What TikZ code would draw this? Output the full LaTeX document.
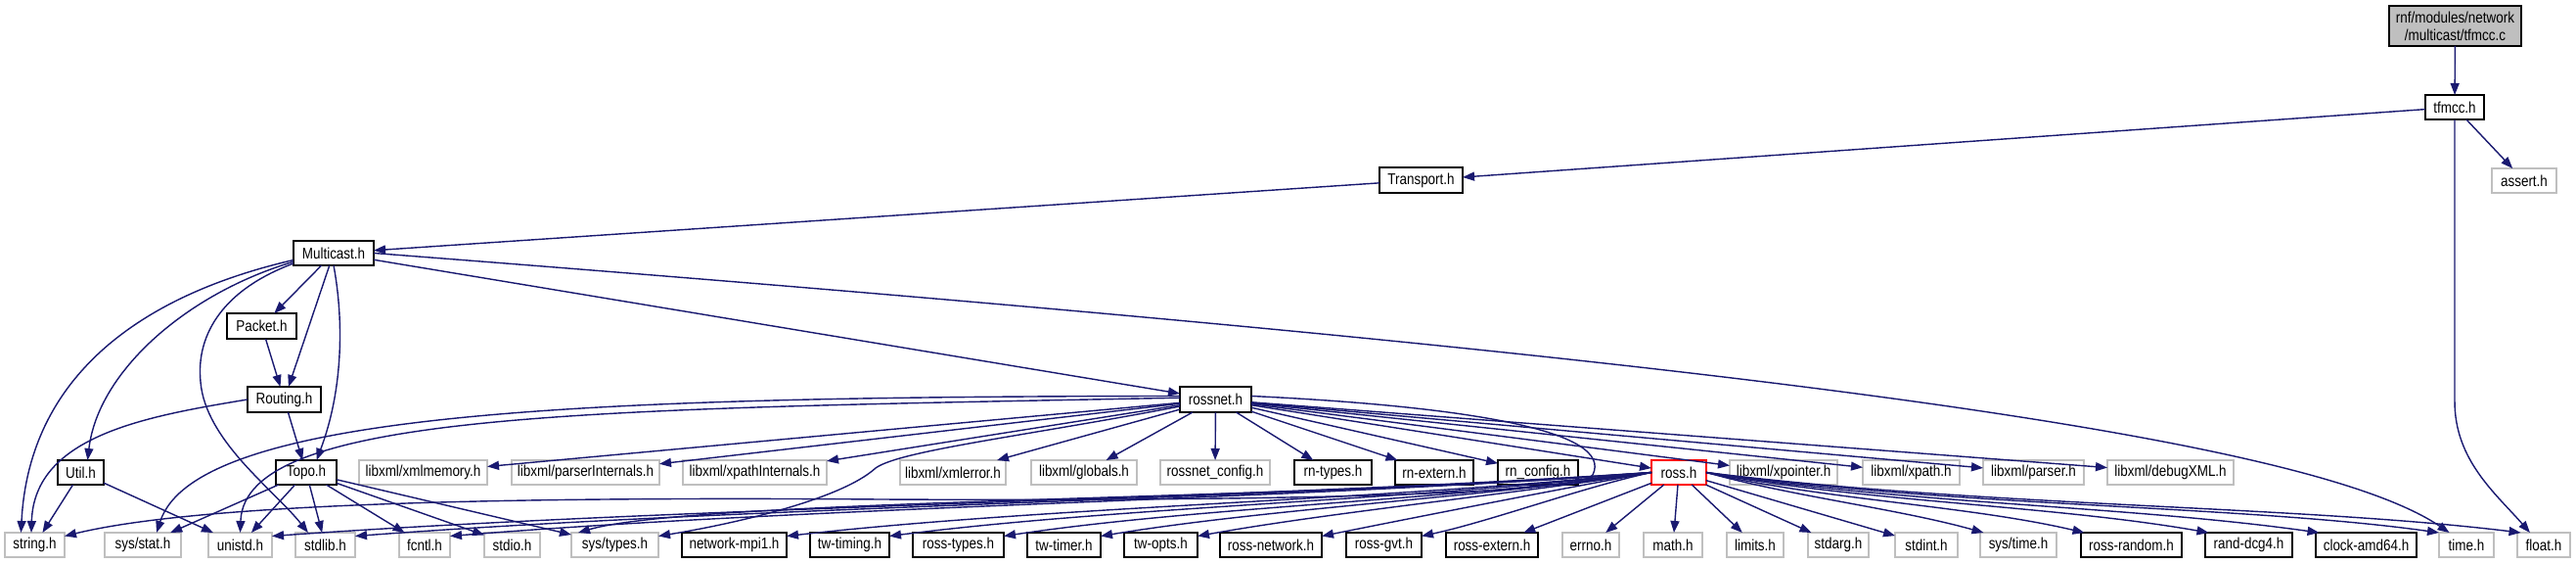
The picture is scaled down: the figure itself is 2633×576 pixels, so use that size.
\documentclass[tikz,border=0pt]{standalone}
\usepackage{fontspec}
\setmainfont{Liberation Sans}[FakeStretch=0.85]
\usetikzlibrary{arrows.meta,calc}
\definecolor{edgec}{HTML}{191970}
\definecolor{sysgray}{HTML}{BFBFBF}
\newcommand\mkbox[7]{\node[#1, minimum width={(#5-#4)*0.01cm}, minimum height={(#7-#6)*0.01cm}] (#2) at ({(#4+#5)/2},{(#6+#7)/2}) {#3};}
\begin{document}
\begin{tikzpicture}[x=0.01cm,y=-0.01cm,
  basebox/.style={rectangle, inner sep=0pt, outer sep=0pt, line width=0.45pt, fill=white, font=\fontsize{4.5pt}{5.2pt}\selectfont},
  docbox/.style={basebox, draw=black},
  sysbox/.style={basebox, draw=sysgray},
  rootbox/.style={basebox, draw=black, fill=sysgray, align=center},
  rossbox/.style={basebox, draw=red},
  dep/.style={draw=edgec, line width=0.4pt, -{Triangle[length=0.12cm, width=0.09cm]}}
]
\useasboundingbox (0,0) rectangle (2633,576);
% nodes
\mkbox{rootbox}{tfmccc}{rnf/modules/network\\/multicast/tfmcc.c}{2442}{2577}{6}{47}
\mkbox{docbox}{tfmcch}{tfmcc.h}{2479}{2539}{97}{122}
\mkbox{docbox}{transport}{Transport.h}{1410}{1495}{171}{197}
\mkbox{sysbox}{assert}{assert.h}{2547}{2613}{172}{197}
\mkbox{docbox}{multicast}{Multicast.h}{300}{382}{246}{271}
\mkbox{docbox}{packet}{Packet.h}{232}{303}{320}{346}
\mkbox{docbox}{routing}{Routing.h}{253}{328}{395}{421}
\mkbox{docbox}{rossnet}{rossnet.h}{1206}{1279}{395}{421}
% row 470
\mkbox{docbox}{util}{Util.h}{59}{106}{470}{495}
\mkbox{docbox}{topo}{Topo.h}{282}{344}{470}{495}
\mkbox{sysbox}{xmlmemory}{libxml/xmlmemory.h}{367}{498}{470}{495}
\mkbox{sysbox}{parserint}{libxml/parserInternals.h}{523}{674}{470}{495}
\mkbox{sysbox}{xpathint}{libxml/xpathInternals.h}{698}{845}{470}{495}
\mkbox{sysbox}{xmlerror}{libxml/xmlerror.h}{920}{1028}{470}{495}
\mkbox{sysbox}{globals}{libxml/globals.h}{1054}{1162}{470}{495}
\mkbox{sysbox}{rnconfigh}{rossnet\_config.h}{1186}{1298}{470}{495}
\mkbox{docbox}{rntypes}{rn-types.h}{1323}{1402}{470}{495}
\mkbox{docbox}{rnextern}{rn-extern.h}{1426}{1506}{470}{495}
\mkbox{docbox}{rnconfig}{rn\_config.h}{1531}{1613}{470}{495}
\mkbox{rossbox}{ross}{ross.h}{1688}{1744}{470}{495}
\mkbox{sysbox}{xpointer}{libxml/xpointer.h}{1768}{1878}{470}{495}
\mkbox{sysbox}{xpath}{libxml/xpath.h}{1904}{2003}{470}{495}
\mkbox{sysbox}{parser}{libxml/parser.h}{2027}{2130}{470}{495}
\mkbox{sysbox}{debugxml}{libxml/debugXML.h}{2154}{2283}{470}{495}
% bottom row
\mkbox{sysbox}{stringh}{string.h}{5}{66}{544}{569}
\mkbox{sysbox}{sysstat}{sys/stat.h}{107}{185}{544}{569}
\mkbox{sysbox}{unistd}{unistd.h}{213}{278}{544}{569}
\mkbox{sysbox}{stdlib}{stdlib.h}{302}{363}{544}{569}
\mkbox{sysbox}{fcntl}{fcntl.h}{408}{460}{544}{569}
\mkbox{sysbox}{stdio}{stdio.h}{495}{552}{544}{569}
\mkbox{sysbox}{systypes}{sys/types.h}{584}{673}{544}{569}
\mkbox{docbox}{mpi}{network-mpi1.h}{697}{804}{544}{569}
\mkbox{docbox}{twtiming}{tw-timing.h}{828}{909}{544}{569}
\mkbox{docbox}{rosstypes}{ross-types.h}{933}{1026}{544}{569}
\mkbox{docbox}{twtimer}{tw-timer.h}{1050}{1125}{544}{569}
\mkbox{docbox}{twopts}{tw-opts.h}{1149}{1224}{544}{569}
\mkbox{docbox}{rossnetwork}{ross-network.h}{1247}{1351}{544}{569}
\mkbox{docbox}{rossgvt}{ross-gvt.h}{1376}{1453}{544}{569}
\mkbox{docbox}{rossextern}{ross-extern.h}{1478}{1572}{544}{569}
\mkbox{sysbox}{errno}{errno.h}{1597}{1655}{544}{569}
\mkbox{sysbox}{math}{math.h}{1680}{1740}{544}{569}
\mkbox{sysbox}{limits}{limits.h}{1765}{1823}{544}{569}
\mkbox{sysbox}{stdarg}{stdarg.h}{1848}{1910}{544}{569}
\mkbox{sysbox}{stdint}{stdint.h}{1937}{2001}{544}{569}
\mkbox{sysbox}{systime}{sys/time.h}{2024}{2102}{544}{569}
\mkbox{docbox}{rossrandom}{ross-random.h}{2127}{2230}{544}{569}
\mkbox{docbox}{randdcg}{rand-dcg4.h}{2254}{2343}{544}{569}
\mkbox{docbox}{clock}{clock-amd64.h}{2367}{2470}{544}{569}
\mkbox{sysbox}{timeh}{time.h}{2493}{2549}{544}{569}
\mkbox{sysbox}{floath}{float.h}{2573}{2627}{544}{569}
% edges: top
\draw[dep] (tfmccc) -- (tfmcch);
\draw[dep] (tfmcch) -- (transport);
\draw[dep] (tfmcch) -- (assert);
\draw[dep] (tfmcch.south) -- ++(0,288) .. controls +(0,60) and +(-35,-40) .. ([xshift=-4pt]floath.north);
\draw[dep] (transport) -- (multicast);
% Multicast
\draw[dep] (multicast) -- (packet);
\draw[dep] (multicast) -- (routing);
\draw[dep] (packet) -- (routing);
\draw[dep] (multicast) -- (rossnet);
\draw[dep] (multicast.east) .. controls (1700,360) and (2350,440) .. ([xshift=3pt]timeh.north west);
\draw[dep] ([yshift=-2pt]multicast.west) .. controls (150,300) and (30,380) .. ([xshift=-4pt]stringh.north);
\draw[dep] ([yshift=-2.5pt]multicast.west) .. controls (190,300) and (100,380) .. ([xshift=2pt]util.north);
\draw[dep] ([yshift=-3pt]multicast.west) .. controls (230,295) and (200,340) .. (205,390) .. controls (210,450) and (280,500) .. ([xshift=-5pt]stdlib.north);
\draw[dep] (multicast.south) .. controls (352,330) and (350,400) .. ([xshift=3pt]topo.north);
% Routing, Util, Topo
\draw[dep] (routing) -- (topo);
\draw[dep] (routing.west) .. controls (150,425) and (35,445) .. ([xshift=-1pt]stringh.north);
\draw[dep] (util) -- (stringh);
\draw[dep] (util) -- (unistd);
\foreach \t in {sysstat,unistd,stdlib,fcntl,stdio,systypes} \draw[dep] (topo) -- (\t);
% rossnet
\foreach \t in {xmlmemory,parserint,xpathint,xmlerror,globals,rnconfigh,rntypes,rnextern,rnconfig,ross,xpointer,xpath,parser,debugxml} \draw[dep] (rossnet) -- (\t);
\draw[dep] ([yshift=1pt]rossnet.west) .. controls (600,405) and (200,420) .. ([xshift=4pt]sysstat.north);
\draw[dep] ([yshift=0.5pt]rossnet.west) .. controls (600,418) and (250,420) .. (unistd.north);
\draw[dep] ([yshift=-2pt]rossnet.west) .. controls (1050,445) and (920,460) .. (895,478) .. controls (860,510) and (750,535) .. ([yshift=-1pt]systypes.north east);
\draw[dep] ([yshift=1pt]rossnet.east) .. controls (1500,415) and (1650,440) .. (1628,485) .. controls (1615,505) and (1300,512) .. (900,510) .. controls (500,507) and (200,515) .. ([yshift=-1pt]stringh.north east);
% ross.h to the left
\draw[dep] (ross.west) .. controls +(-420,28) and +(420,-30) .. ([yshift=-1pt]unistd.north east);
\draw[dep] (ross.west) .. controls +(-400,28) and +(400,-30) .. ([yshift=-1pt]stdlib.north east);
\draw[dep] (ross.west) .. controls +(-370,28) and +(370,-30) .. ([yshift=-1pt]fcntl.north east);
\draw[dep] (ross.west) .. controls +(-330,28) and +(120,-35) .. ([xshift=2pt]systypes.north west);
\draw[dep] (ross.west) .. controls +(-265,28) and +(265,-30) .. ([yshift=-1pt]mpi.north east);
\draw[dep] (ross.west) .. controls +(-235,28) and +(235,-30) .. ([yshift=-1pt]twtiming.north east);
\draw[dep] (ross.west) .. controls +(-200,28) and +(200,-30) .. ([yshift=-1pt]rosstypes.north east);
\draw[dep] (ross.west) .. controls +(-170,25) and +(170,-28) .. ([yshift=-1pt]twtimer.north east);
\draw[dep] (ross.west) .. controls +(-140,22) and +(140,-25) .. ([yshift=-1pt]twopts.north east);
\draw[dep] (ross.west) .. controls +(-100,18) and +(100,-20) .. ([yshift=-1pt]rossnetwork.north east);
\draw[dep] (ross.west) .. controls +(-70,15) and +(70,-15) .. ([yshift=-1pt]rossgvt.north east);
\foreach \t in {rossextern,errno,math,limits,stdarg,stdint} \draw[dep] (ross) -- (\t);
% ross.h to the right
\draw[dep] (ross.east) .. controls +(90,25) and +(-90,-25) .. ([xshift=1pt]systime.north west);
\draw[dep] (ross.east) .. controls +(120,28) and +(-120,-28) .. ([xshift=1pt]rossrandom.north west);
\draw[dep] (ross.east) .. controls +(160,30) and +(-160,-28) .. ([xshift=1pt]randdcg.north west);
\draw[dep] (ross.east) .. controls +(200,32) and +(-200,-28) .. ([xshift=1pt]clock.north west);
\draw[dep] (ross.east) .. controls +(250,35) and +(-200,-28) .. (timeh.north west);
\draw[dep] (ross.east) .. controls +(280,35) and +(-230,-28) .. ([xshift=1pt]floath.north west);
\end{tikzpicture}
\end{document}
